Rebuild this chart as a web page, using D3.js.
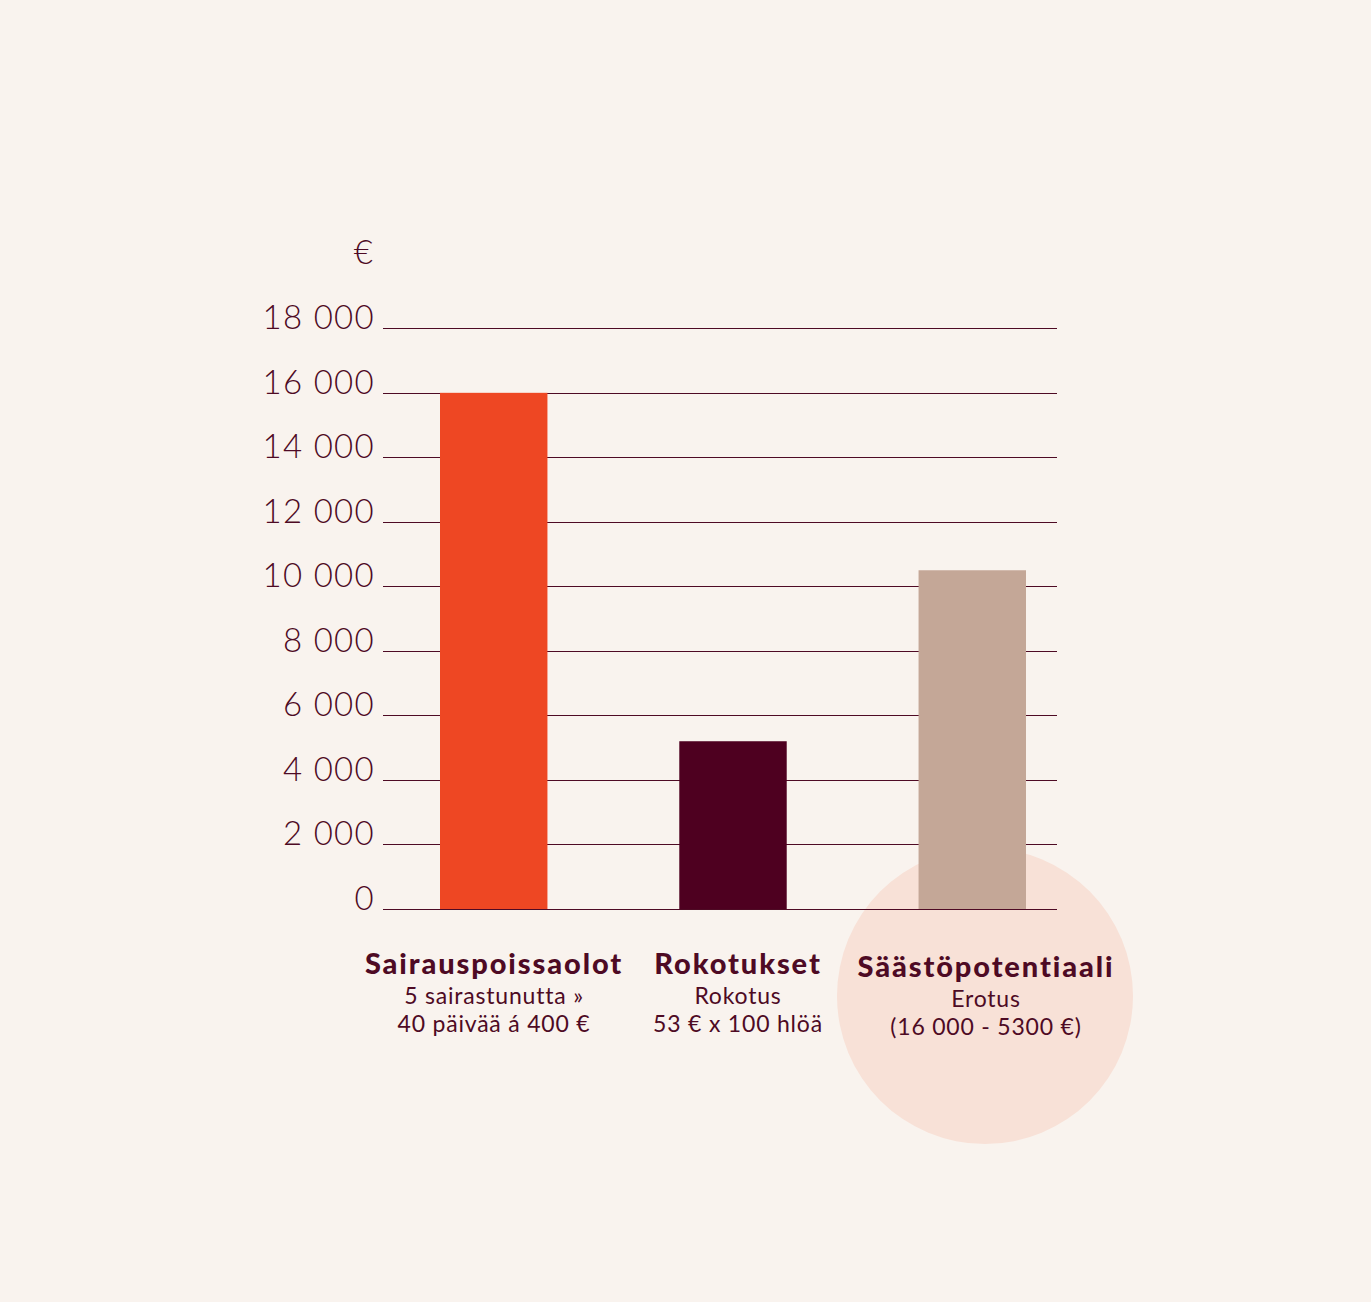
<!DOCTYPE html>
<html><head><meta charset="utf-8">
<script src="https://cdn.jsdelivr.net/npm/d3@7/dist/d3.min.js"></script>
<style>
html,body{margin:0;padding:0;background:#f9f3ee;}
svg{display:block;}
</style></head>
<body>
<svg id="chart" width="1371" height="1302"></svg>
<script>
// ---- data ----
const categories = ["Sairauspoissaolot", "Rokotukset", "Säästöpotentiaali"];
const values = [16000, 5200, 10500];
const subtitles1 = ["5 sairastunutta »", "Rokotus", "Erotus"];
const subtitles2 = ["40 päivää á 400 €", "53 € x 100 hlöä", "(16 000 - 5300 €)"];
const tickValues = [0, 2000, 4000, 6000, 8000, 10000, 12000, 14000, 16000, 18000];
const tickLabels = ["0", "2 000", "4 000", "6 000", "8 000", "10 000", "12 000", "14 000", "16 000", "18 000"];
const unitLabel = "€";

// ---- styles ----
const barColors = ["#ee4723", "#4e0020", "#c4a797"];
const ink = "#4e0a24";
const font = "Lato, 'Noto Sans', sans-serif";

const svg = d3.select("#chart");
svg.append("rect").attr("width", 1371).attr("height", 1302).attr("fill", "#f9f3ee");

const x = d3.scaleBand().domain(categories).range([440, 1026]).paddingInner(0.551).paddingOuter(0);
const y = d3.scaleLinear().domain([0, 18000]).range([909, 328.3]);

// highlight circle behind the third category
svg.append("circle")
  .attr("cx", 985).attr("cy", 996).attr("r", 148)
  .attr("fill", "#f8e1d7");

// gridlines
svg.append("g").selectAll("line").data(tickValues).join("line")
  .attr("x1", 383).attr("x2", 1057)
  .attr("y1", d => Math.round(y(d)) + 0.5).attr("y2", d => Math.round(y(d)) + 0.5)
  .attr("stroke", ink).attr("stroke-width", 1);

// tick labels
svg.append("g").selectAll("text").data(tickValues).join("text")
  .attr("x", 375).attr("y", d => y(d) + 1)
  .attr("text-anchor", "end")
  .attr("font-family", font).attr("font-weight", 300)
  .attr("font-size", 33).attr("letter-spacing", 1.3).attr("fill", ink)
  .text((d, i) => tickLabels[i]);

svg.append("text")
  .attr("x", 373).attr("y", 264)
  .attr("text-anchor", "end")
  .attr("font-family", font).attr("font-weight", 300)
  .attr("font-size", 33).attr("fill", ink)
  .text(unitLabel);

// bars
svg.append("g").selectAll("rect").data(values).join("rect")
  .attr("x", (d, i) => x(categories[i]))
  .attr("width", x.bandwidth())
  .attr("y", d => y(d))
  .attr("height", d => y(0) - y(d))
  .attr("fill", (d, i) => barColors[i]);

// baseline redrawn on top
svg.append("line")
  .attr("x1", 383).attr("x2", 1057)
  .attr("y1", Math.round(y(0)) + 0.5).attr("y2", Math.round(y(0)) + 0.5)
  .attr("stroke", ink).attr("stroke-width", 1.2);

// category labels
const labelCenters = [494, 738, 986];
const labelShift = [0, 0, 3];
const lg = svg.append("g").attr("fill", ink).attr("font-family", font).attr("text-anchor", "middle");
categories.forEach((c, i) => {
  const cx = labelCenters[i];
  lg.append("text").attr("x", cx).attr("y", 974 + labelShift[i])
    .attr("font-weight", 900).attr("font-size", 29).attr("letter-spacing", 1.9).text(c);
  lg.append("text").attr("x", cx).attr("y", 1004 + labelShift[i])
    .attr("font-weight", 400).attr("font-size", 23).attr("letter-spacing", 0.8).text(subtitles1[i]);
  lg.append("text").attr("x", cx).attr("y", 1032 + labelShift[i])
    .attr("font-weight", 400).attr("font-size", 23).attr("letter-spacing", 0.8).text(subtitles2[i]);
});
</script>
</body></html>
